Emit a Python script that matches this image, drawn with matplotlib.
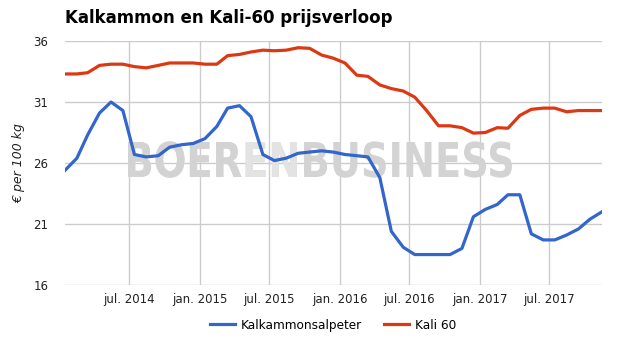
import matplotlib.pyplot as plt
import pandas as pd
from matplotlib.textpath import TextPath
from matplotlib.patches import PathPatch
from matplotlib.font_manager import FontProperties
from matplotlib.transforms import Affine2D, IdentityTransform

# maandelijkse prijzen, jan. 2014 t/m nov. 2017
maanden = pd.date_range("2014-01-01", "2017-11-01", freq="MS") + pd.Timedelta(days=14)

kalkammonsalpeter = [25.4, 26.4, 28.3, 30.1, 31.0, 30.3, 26.7, 26.5, 26.6, 27.3, 27.5, 27.6,
                     28.0, 29.0, 30.5, 30.7, 29.8, 26.7, 26.2, 26.4, 26.8, 26.9, 27.0, 26.9,
                     26.7, 26.6, 26.5, 24.8, 20.4, 19.1, 18.5, 18.5, 18.5, 18.5, 19.0, 21.6,
                     22.2, 22.6, 23.4, 23.4, 20.2, 19.7, 19.7, 20.1, 20.6, 21.4, 22.0]
kali_60 = [33.3, 33.3, 33.4, 34.0, 34.1, 34.1, 33.9, 33.8, 34.0, 34.2, 34.2, 34.2,
           34.1, 34.1, 34.8, 34.9, 35.1, 35.25, 35.2, 35.25, 35.45, 35.4, 34.85, 34.6,
           34.2, 33.2, 33.1, 32.4, 32.1, 31.9, 31.4, 30.3, 29.05, 29.05, 28.9, 28.45,
           28.5, 28.9, 28.85, 29.9, 30.4, 30.5, 30.5, 30.2, 30.3, 30.3, 30.3]

y_ticks = [16, 21, 26, 31, 36]
x_ticks = pd.to_datetime(["2014-07-01", "2015-01-01", "2015-07-01", "2016-01-01",
                          "2016-07-01", "2017-01-01", "2017-07-01"])
x_labels = ["jul. 2014", "jan. 2015", "jul. 2015", "jan. 2016",
            "jul. 2016", "jan. 2017", "jul. 2017"]

fig = plt.figure(figsize=(6.25, 3.55), dpi=100)
ax = fig.add_axes([0.104, 0.197, 0.859, 0.6875])

# watermerk: BOER + EN (lichter) + BUSINESS, geschaald naar een vast kader in pixels
fp = FontProperties(family="DejaVu Sans", weight="heavy")
vol = TextPath((0, 0), "BOERENBUSINESS", size=50, prop=fp)
ext = vol.get_extents()
sx = (512 - 128) / ext.width
sy = 35 / TextPath((0, 0), "B", size=50, prop=fp).get_extents().height
tr = Affine2D().translate(-ext.x0, 0).scale(sx, sy).translate(128, 355 - 177)
for tekst, kleur in [("BOERENBUSINESS", "#d3d3d3"), ("BOEREN", "#e3e3e3"), ("BOER", "#d3d3d3")]:
    p = TextPath((0, 0), tekst, size=50, prop=fp)
    ax.add_patch(PathPatch(tr.transform_path(p), transform=IdentityTransform(),
                           facecolor=kleur, edgecolor="none", zorder=1))

ax.plot(maanden, kalkammonsalpeter, color="#3366cc", lw=2.3, label="Kalkammonsalpeter",
        solid_joinstyle="round", zorder=3)
ax.plot(maanden, kali_60, color="#dc3912", lw=2.3, label="Kali 60",
        solid_joinstyle="round", zorder=3)

ax.set_xlim(maanden[0], maanden[-1])
ax.set_ylim(16, 36)
ax.set_yticks(y_ticks)
ax.set_xticks(x_ticks)
ax.set_xticklabels(x_labels)
ax.grid(True, color="#cccccc", lw=1, zorder=0)
ax.set_axisbelow(True)
for s in ax.spines.values():
    s.set_visible(False)
ax.tick_params(axis="both", length=0, labelsize=8.5, colors="#222222")
ax.tick_params(axis="x", pad=6)
ax.tick_params(axis="y", pad=12)

ax.set_ylabel("€ per 100 kg", fontsize=9, style="italic", color="#222222", labelpad=6)
fig.text(0.104, 0.925, "Kalkammon en Kali-60 prijsverloop", fontsize=12,
         fontweight="bold", color="#000000", ha="left", va="bottom")

fig.legend(loc="lower center", bbox_to_anchor=(0.533, 0.035), ncol=2, frameon=False,
           fontsize=8.7, handlelength=2.1, handletextpad=0.5, columnspacing=1.8)

fig.savefig("out.png", dpi=100)
